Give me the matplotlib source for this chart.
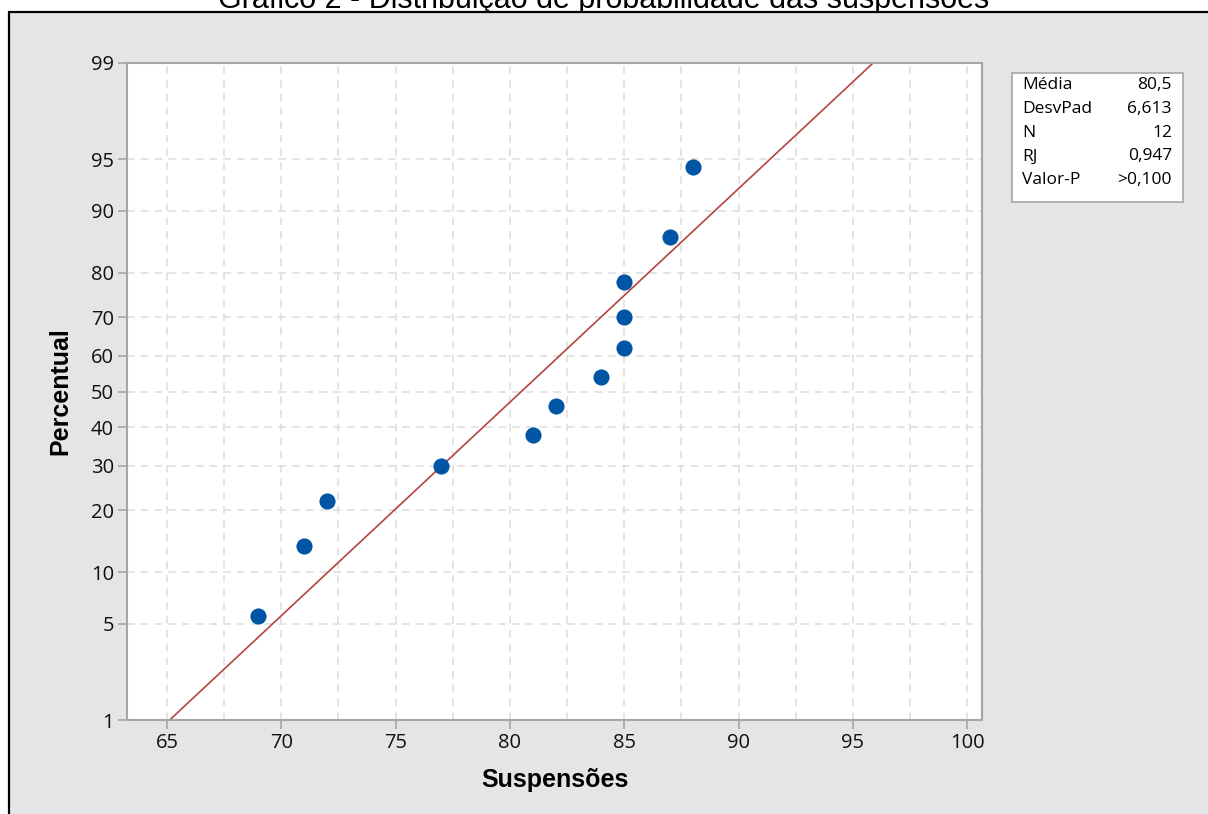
from statistics import NormalDist
import matplotlib
matplotlib.use('Agg')
import matplotlib.pyplot as plt
from matplotlib.patches import Rectangle
from matplotlib.ticker import MultipleLocator

# dados
suspensoes = [69, 71, 72, 77, 81, 82, 84, 85, 85, 85, 87, 88]
percentual = [5.6, 13.7, 21.8, 29.8, 37.9, 46.0, 54.0, 62.1, 70.2, 78.2, 86.3, 94.4]
media = 80.5
desvpad = 6.613
y_ticks = [1, 5, 10, 20, 30, 40, 50, 60, 70, 80, 90, 95, 99]
x_ticks = [65, 70, 75, 80, 85, 90, 95, 100]
stat_labels = ['Média', 'DesvPad', 'N', 'RJ', 'Valor-P']
stat_values = ['80,5', '6,613', '12', '0,947', '>0,100']

W, H = 1208, 814
nd = NormalDist()


def z(p):  # percent -> normal score
    return nd.inv_cdf(p / 100)


def fx(x):
    return x / W


def fy(y):
    return 1 - y / H


fig = plt.figure(figsize=(W / 100, H / 100), dpi=100)

# painel cinza com borda
fig.patches.append(Rectangle((fx(8.5), -0.1), 1.2, fy(11.5) + 0.1, transform=fig.transFigure,
                             facecolor='#e5e5e5', edgecolor='black', lw=1.6, zorder=-10))
fig.text(0.5, fy(8), 'Gráfico 2 - Distribuição de probabilidade das suspensões',
         ha='center', va='baseline', fontsize=22, family='Liberation Sans', zorder=-20)

ax = fig.add_axes([fx(127), fy(720), fx(982 - 127), (720 - 63) / H])
ax.set_facecolor('white')

xs = [60, 105]
ax.plot(xs, [(x - media) / desvpad for x in xs], color='#b5433f', lw=1.2, zorder=2)
ax.scatter(suspensoes, [z(p) for p in percentual], s=135, color='#0055a5', zorder=3, lw=0)

ax.set_xlim(63.25, 100.65)
ax.set_ylim(z(1), z(99))
ax.set_xticks(x_ticks)
ax.xaxis.set_minor_locator(MultipleLocator(2.5))
ax.set_yticks([z(p) for p in y_ticks])
ax.set_yticklabels([str(p) for p in y_ticks])

ax.grid(True, which='both', axis='x', color='#dcdcdc', ls=(0, (5, 4)), lw=1.1, zorder=1)
ax.grid(True, which='major', axis='y', color='#dcdcdc', ls=(0, (5, 4)), lw=1.1, zorder=1)
ax.set_axisbelow(True)

for s in ax.spines.values():
    s.set_color('#a6a6a6')
    s.set_linewidth(1.5)
ax.tick_params(which='major', direction='out', length=6.5, width=1.2, color='#a6a6a6',
               labelsize=14.5, pad=3, labelcolor='#111111')
ax.tick_params(which='minor', length=0)
for lab in ax.get_xticklabels() + ax.get_yticklabels():
    lab.set_family('Open Sans')

ax.set_xlabel('Suspensões', fontsize=18, fontweight='bold', family='Liberation Sans', labelpad=11)
ax.set_ylabel('Percentual', fontsize=18, fontweight='bold', family='Liberation Sans', labelpad=13)

# caixa de estatísticas
fig.patches.append(Rectangle((fx(1012), fy(202)), fx(1183 - 1012), (202 - 73) / H,
                             transform=fig.transFigure, facecolor='white',
                             edgecolor='#a6a6a6', lw=1.2, zorder=1))
for i, (lab, val) in enumerate(zip(stat_labels, stat_values)):
    yy = fy(85 + i * 23.8)
    fig.text(fx(1022), yy, lab, ha='left', va='center', fontsize=12.5, family='Open Sans', zorder=2)
    fig.text(fx(1172), yy, val, ha='right', va='center', fontsize=12.5, family='Open Sans', zorder=2)

fig.savefig('out.png', dpi=100)
